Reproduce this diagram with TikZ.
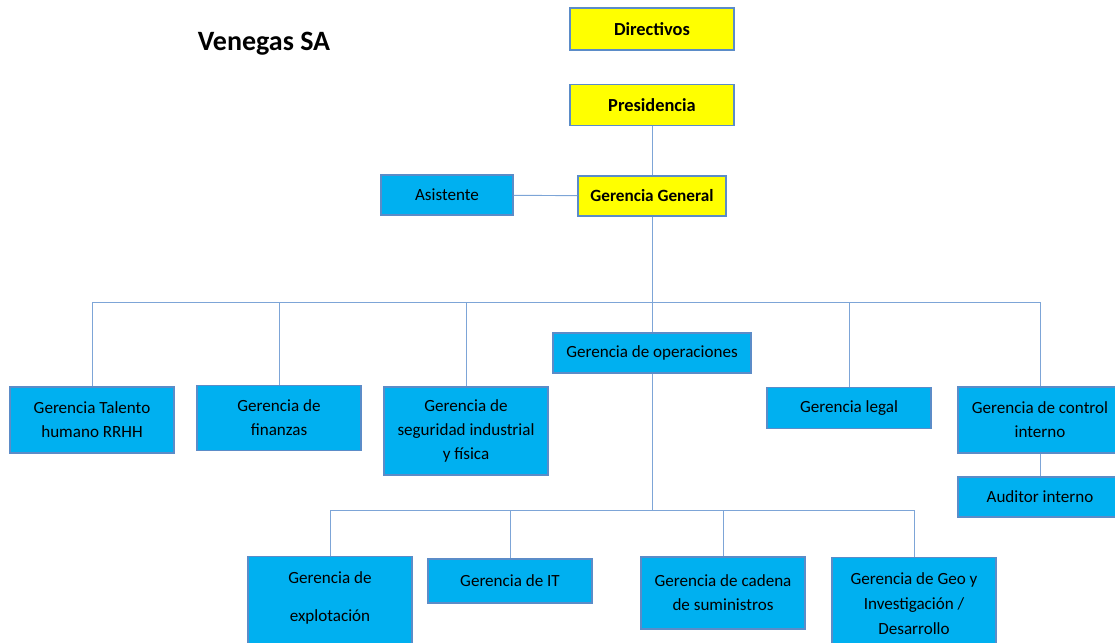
\documentclass[tikz,border=0pt]{standalone}
\usepackage{fontspec}
\setmainfont{Carlito}
\usepackage{tikz}
\usetikzlibrary{positioning}
\definecolor{celeste}{RGB}{0,176,240}
\definecolor{amarillo}{RGB}{255,255,0}
\definecolor{borde}{RGB}{91,140,200}
\definecolor{linea}{RGB}{125,165,215}
\begin{document}
\begin{tikzpicture}[x=0.75pt,y=-0.75pt,
  caja/.style={draw=borde,line width=1.1pt,fill=celeste,align=center,inner sep=0pt,
    minimum width=123pt,font=\fontsize{12.8}{18}\selectfont},
  jefe/.style={caja,fill=amarillo,font=\fontsize{13.8}{18}\selectfont\bfseries},
  abierta/.style={caja,anchor=north,text width=123pt,align=flush center,text height=20pt,text depth=70pt},
  rama/.style={draw=linea,line width=0.7pt}]
\clip (0,0) rectangle (1115,643);
\node[font=\fontsize{21}{24}\selectfont\bfseries] (titulo) at (264,44) {Venegas SA};
\node[jefe,minimum height=31.5pt] (directivos) at (652,29) {Directivos};
\node[jefe,minimum height=31pt] (presidencia) at (652,105) {Presidencia};
\node[jefe,font=\fontsize{12.9}{18}\selectfont\bfseries,minimum width=111pt,minimum height=30pt] (general) at (652,196) {Gerencia General};
\node[caja,minimum width=99pt,minimum height=30pt] (asistente) at (447,195) {Asistente};
\node[caja,minimum width=148.5pt,minimum height=30pt] (operaciones) at (652,353) {Gerencia de operaciones};
\node[caja,minimum height=49.5pt] (talento) at (92,420) {Gerencia Talento\\humano RRHH};
\node[caja,minimum height=49pt] (finanzas) at (279,418) {Gerencia de\\finanzas};
\node[caja,minimum height=66pt] (seguridad) at (466,431) {Gerencia de\\seguridad industrial\\y física};
\node[caja,minimum height=31pt] (legal) at (849,408) {Gerencia legal};
\node[caja,minimum height=49.5pt] (control) at (1040,420) {Gerencia de control\\interno};
\node[caja,minimum height=30pt] (auditor) at (1040,497) {Auditor interno};
\node[abierta] (explotacion) at (330,556) {Gerencia de\\[10.5pt]explotación};
\node[caja,minimum height=33pt] (it) at (510,581) {Gerencia de IT};
\node[caja,minimum height=54pt] (cadena) at (723,593) {Gerencia de cadena\\de suministros};
\node[abierta] (geo) at (914,557) {Gerencia de Geo y\\[0.75pt]Investigación /\\[0.75pt]Desarrollo};
\coordinate (bus) at (652,302);
\coordinate (bus2) at (652,510);
\draw[rama] (presidencia) -- (general);
\draw[rama] (asistente) -- (general);
\draw[rama] (general) -- (operaciones);
\draw[rama] (bus) -| (talento);
\draw[rama] (bus) -| (finanzas);
\draw[rama] (bus) -| (seguridad);
\draw[rama] (bus) -| (legal);
\draw[rama] (bus) -| (control);
\draw[rama] (control) -- (auditor);
\draw[rama] (operaciones) -- (bus2);
\draw[rama] (bus2) -| (explotacion);
\draw[rama] (bus2) -| (it);
\draw[rama] (bus2) -| (cadena);
\draw[rama] (bus2) -| (geo);
\end{tikzpicture}
\end{document}
